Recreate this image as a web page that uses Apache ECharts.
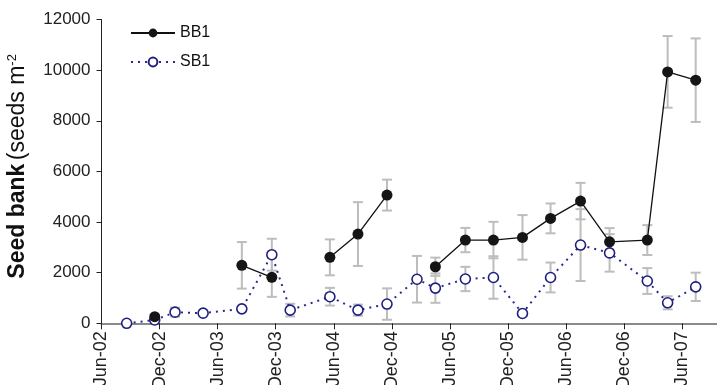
<!DOCTYPE html>
<html><head><meta charset="utf-8">
<script src="https://cdn.jsdelivr.net/npm/echarts@6/dist/echarts.min.js"></script>
<style>html,body{margin:0;padding:0;background:#fff}#c{width:717px;height:385px}</style>
</head><body><div id="c"></div>
<script>
// Sampling dates, in months after June 2002
var months = [2.6, 5.5, 7.6, 10.5, 14.5, 17.6, 19.5, 23.6, 26.5, 29.5, 32.6, 34.5, 37.6, 40.5, 43.5, 46.4, 49.5, 52.5, 56.4, 58.5, 61.4];
// BB1 seed bank (seeds m-2); null = not sampled
var bb1 = [null, 260, null, null, 2290, 1815, null, 2605, 3525, 5064, null, 2234, 3288, 3288, 3394, 4144, 4827, 3220, 3288, 9931, 9603];
var bb1Err = [null, 0, null, null, 920, 770, null, 710, 1260, 610, null, 360, 480, 720, 880, 590, 720, 540, 590, 1415, 1650];
// SB1 seed bank
var sb1 = [0, 130, 440, 400, 570, 2710, 520, 1050, 520, 760, 1740, 1390, 1750, 1810, 390, 1810, 3090, 2780, 1670, 810, 1440];
var sb1Err = [0, 0, 175, 0, 100, 630, 250, 350, 220, 620, 920, 580, 480, 840, 0, 590, 1420, 740, 510, 260, 560];
// x tick labels every 6 months from Jun-02
var tickLabels = ['Jun-02','Dec-02','Jun-03','Dec-03','Jun-04','Dec-04','Jun-05','Dec-05','Jun-06','Dec-06','Jun-07'];

var FONT = 'Liberation Sans, Arial, sans-serif';
function pairs(vals) { return months.map(function (m, i) { return [m, vals[i]]; }); }
function errData(vals, errs) {
  var out = [];
  months.forEach(function (m, i) {
    if (vals[i] != null && errs[i]) out.push([m, vals[i], errs[i]]);
  });
  return out;
}
function renderErr(params, api) {
  var x = api.value(0), y = api.value(1), e = api.value(2);
  var top = api.coord([x, y + e]), bot = api.coord([x, Math.max(0, y - e)]);
  var hw = 5;
  var st = { stroke: '#bdbdbd', lineWidth: 2 };
  return { type: 'group', children: [
    { type: 'line', shape: { x1: top[0], y1: top[1], x2: bot[0], y2: bot[1] }, style: st },
    { type: 'line', shape: { x1: top[0] - hw, y1: top[1], x2: top[0] + hw, y2: top[1] }, style: st },
    { type: 'line', shape: { x1: bot[0] - hw, y1: bot[1], x2: bot[0] + hw, y2: bot[1] }, style: st }
  ]};
}

var chart = echarts.init(document.getElementById('c'), null, { renderer: 'canvas' });
chart.setOption({
  animation: false,
  backgroundColor: '#fff',
  textStyle: { fontFamily: FONT },
  grid: { left: 101.5, top: 19.5, right: 0, bottom: 61.7, containLabel: false, outerBoundsMode: 'none' },
  legend: {
    orient: 'vertical', left: 130, top: 25, padding: 0,
    itemWidth: 44, itemHeight: 11, itemGap: 13,
    textStyle: { fontSize: 16, color: '#111', fontFamily: FONT },
    data: ['BB1', 'SB1']
  },
  xAxis: {
    type: 'value', min: 0, max: 63.6, interval: 6,
    splitLine: { show: false },
    axisLine: { lineStyle: { color: '#8a8a8a', width: 2 } },
    axisTick: { length: 6, lineStyle: { color: '#222', width: 1 } },
    axisLabel: {
      rotate: 90, fontSize: 18, color: '#222', margin: 8, fontFamily: FONT,
      showMaxLabel: false,
      formatter: function (v) { var k = Math.round(v / 6); return (Math.abs(v - k * 6) < 1e-6 && tickLabels[k]) ? tickLabels[k] : ''; }
    }
  },
  yAxis: {
    type: 'value', min: 0, max: 12000, interval: 2000,
    splitLine: { show: false },
    axisLine: { show: true, lineStyle: { color: '#222', width: 1 } },
    axisTick: { show: true, length: 5, lineStyle: { color: '#222' } },
    axisLabel: { fontSize: 17, color: '#222', margin: 11, fontFamily: FONT, formatter: function (v) { return String(v); } },
    name: '{b|Seed bank} {n|(seeds m}{s|-2}',
    nameLocation: 'middle', nameGap: 72, nameRotate: 90,
    nameTextStyle: {
      padding: [0, 0, 0, 10],
      rich: {
        b: { fontSize: 23, fontWeight: 'bold', color: '#111', fontFamily: FONT },
        n: { fontSize: 23, color: '#111', fontFamily: FONT },
        s: { fontSize: 13, color: '#111', fontFamily: FONT, verticalAlign: 'top', padding: [0, 0, 11, 0] }
      }
    }
  },
  series: [
    { name: 'errBB1', type: 'custom', renderItem: renderErr, data: errData(bb1, bb1Err), z: 1, silent: true },
    { name: 'errSB1', type: 'custom', renderItem: renderErr, data: errData(sb1, sb1Err), z: 1, silent: true },
    {
      name: 'SB1', type: 'line', data: pairs(sb1), z: 3,
      symbol: 'circle', symbolSize: 10, showSymbol: true,
      lineStyle: { color: '#2a2a8c', width: 2, type: [2, 5] },
      itemStyle: { color: '#fff', borderColor: '#1f1f80', borderWidth: 1.6 },
      color: '#1f1f80'
    },
    {
      name: 'BB1', type: 'line', data: pairs(bb1), z: 4, connectNulls: false,
      symbol: 'circle', symbolSize: 11, showSymbol: true,
      lineStyle: { color: '#111', width: 1.3 },
      itemStyle: { color: '#151515', borderColor: '#151515', borderWidth: 0 },
      color: '#151515'
    }
  ]
});
</script></body></html>
